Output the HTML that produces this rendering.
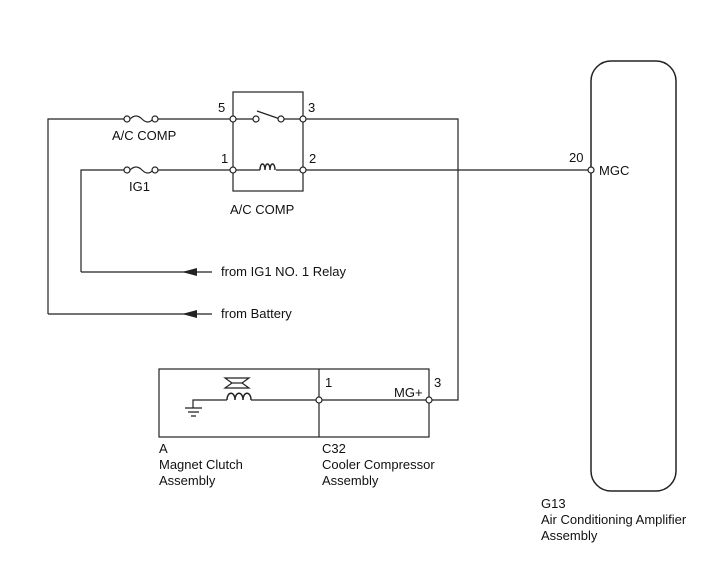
<!DOCTYPE html>
<html><head><meta charset="utf-8"><style>
html,body{margin:0;padding:0;background:#fff;}
svg{display:block;}
text{font-family:"Liberation Sans",Arial,sans-serif;font-size:13px;fill:#111;}
</style></head><body>
<svg width="713" height="581" viewBox="0 0 713 581" xmlns="http://www.w3.org/2000/svg">
<g fill="none" stroke="#222" stroke-width="1.2">
<path d="M48 314 V119 H124"/>
<path d="M158 119 H254"/>
<path d="M283 119 H303"/>
<path d="M303 119 H458 V400 H430"/>
<path d="M130 119 q6 -6 12 0 q6 6 11 0"/>
<path d="M81 272 V170 H124"/>
<path d="M158 170 H233"/>
<path d="M130 170 q6 -6 12 0 q6 6 11 0"/>
<rect x="233" y="92" width="70" height="99"/>
<path d="M233 170 H260"/>
<path d="M276 170 H590"/>
<path d="M257 111 L280 119"/>
<path d="M260 170 c0 -8 5 -8 5 0 c0 -8 5 -8 5 0 c0 -8 5 -8 5 0" stroke-width="1.4"/>
<path d="M81 272 H212"/>
<path d="M48 314 H212"/>
<rect x="591" y="61" width="85" height="430" rx="20" ry="20" stroke-width="1.5"/>
<rect x="159" y="369" width="270" height="68"/>
<path d="M319 369 V437"/>
<path d="M193 408 V400 H227"/>
<path d="M251 400 H429"/>
<path d="M227 400 c0 -9 8 -9 8 0 c0 -9 8 -9 8 0 c0 -9 8 -9 8 0" stroke-width="1.4"/>
<path d="M185 408 H202 M188 412 H199 M191 416 H196"/>
<path d="M225 378 H249 L242 383 L249 388 H225 L232 383 Z"/>
<path d="M232 383 H242"/>
</g>
<g fill="#222">
<polygon points="182,272 197,268 197,276"/>
<polygon points="182,314 197,310 197,318"/>
</g>
<g fill="#fff" stroke="#222" stroke-width="1.2">
<circle cx="127" cy="119" r="3"/><circle cx="155" cy="119" r="3"/>
<circle cx="127" cy="170" r="3"/><circle cx="155" cy="170" r="3"/>
<circle cx="233" cy="119" r="3"/><circle cx="303" cy="119" r="3"/>
<circle cx="233" cy="170" r="3"/><circle cx="303" cy="170" r="3"/>
<circle cx="256" cy="119" r="3"/><circle cx="281" cy="119" r="3"/>
<circle cx="591" cy="170" r="3"/>
<circle cx="319" cy="400" r="3"/><circle cx="429" cy="400" r="3"/>
</g>
<text x="112" y="140">A/C COMP</text>
<text x="129" y="191">IG1</text>
<text x="218" y="112">5</text>
<text x="308" y="112">3</text>
<text x="221" y="163">1</text>
<text x="309" y="163">2</text>
<text x="230" y="214">A/C COMP</text>
<text x="221" y="276">from IG1 NO. 1 Relay</text>
<text x="221" y="318">from Battery</text>
<text x="569" y="162">20</text>
<text x="599" y="175">MGC</text>
<text x="325" y="387">1</text>
<text x="394" y="397">MG+</text>
<text x="434" y="387">3</text>
<text x="159" y="453">A</text>
<text x="159" y="469">Magnet Clutch</text>
<text x="159" y="485">Assembly</text>
<text x="322" y="453">C32</text>
<text x="322" y="469">Cooler Compressor</text>
<text x="322" y="485">Assembly</text>
<text x="541" y="508">G13</text>
<text x="541" y="524">Air Conditioning Amplifier</text>
<text x="541" y="540">Assembly</text>
</svg>
</body></html>
